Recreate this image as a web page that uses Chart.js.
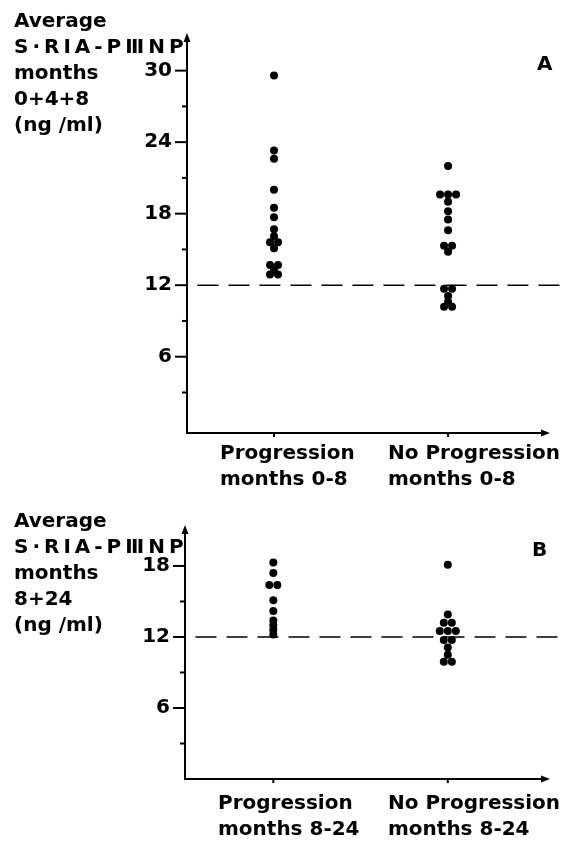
<!DOCTYPE html>
<html>
<head>
<meta charset="utf-8">
<script src="https://cdn.jsdelivr.net/npm/chart.js@4"></script>
<style>
body { margin: 0; background: #fff; }
#page { position: relative; width: 567px; height: 843px; overflow: hidden;
        font-family: "DejaVu Sans", sans-serif; font-weight: bold; font-size: 20px; color: #000; }
canvas { position: absolute; left: 0; }
.txt { position: absolute; white-space: pre; line-height: 26px; }
.wide { letter-spacing: 4px; }
</style>
</head>
<body>
<div id="page">
  <canvas id="chartA" width="567" height="460" style="top:0"></canvas>
  <canvas id="chartB" width="567" height="316" style="top:490px"></canvas>

  <div class="txt" style="left:14px;top:7px">Average
<span class="wide">S·RIA-PⅢNP</span>
months
0+4+8
(ng /ml)</div>
  <div class="txt" style="left:537px;top:50px">A</div>
  <div class="txt" style="left:220px;top:439px">Progression
months 0-8</div>
  <div class="txt" style="left:388px;top:439px">No Progression
months 0-8</div>

  <div class="txt" style="left:14px;top:507px">Average
<span class="wide">S·RIA-PⅢNP</span>
months
8+24
(ng /ml)</div>
  <div class="txt" style="left:532px;top:536px">B</div>
  <div class="txt" style="left:218px;top:789px">Progression
months 8-24</div>
  <div class="txt" style="left:388px;top:789px">No Progression
months 8-24</div>
</div>
<script>
// values (ng/ml)
const categories = [1, 2]; // Progression, No Progression
const progA = [29.6, 23.3, 22.6, 20.0, 18.5, 17.7, 16.7, 16.1, 15.6, 15.6, 15.1, 13.7, 13.7, 13.3, 12.9, 12.9];
const noProgA = [22.0, 19.6, 19.6, 19.6, 19.0, 18.2, 17.5, 16.6, 15.3, 15.3, 14.8, 11.7, 11.7, 11.1, 10.6, 10.2, 10.2];
const progB = [18.3, 17.4, 16.4, 16.4, 15.1, 14.2, 13.4, 13.0, 12.6, 12.2];
const noProgB = [18.1, 13.9, 13.2, 13.2, 12.5, 12.5, 12.5, 11.75, 11.75, 11.1, 10.5, 9.9, 9.9];
const cutoff = 12;
const yTicksA = [6, 12, 18, 24, 30];
const yMinorA = [3, 9, 15, 21, 27];
const yTicksB = [6, 12, 18];
const yMinorB = [3, 9, 15];

// spread equal values side by side like the hand plotted dots
function toPoints(values, xPos) {
    const counts = {};
    values.forEach(v => counts[v] = (counts[v] || 0) + 1);
    const seen = {};
    return values.map(v => {
        const n = counts[v];
        const i = seen[v] = (seen[v] || 0) + 1;
        return { x: xPos + (i - 1 - (n - 1) / 2) * 0.046, y: v };
    });
}

const axisDecor = {
    id: 'axisDecor',
    afterDraw(chart, args, opts) {
        const { ctx, chartArea: a, scales: { x, y } } = chart;
        ctx.save();
        ctx.strokeStyle = '#000';
        ctx.fillStyle = '#000';
        ctx.lineWidth = 2;
        const seg = (x1, y1, x2, y2) => {
            ctx.beginPath(); ctx.moveTo(x1, y1); ctx.lineTo(x2, y2); ctx.stroke();
        };
        opts.major.forEach(v => { const py = y.getPixelForValue(v); seg(a.left - 12, py, a.left, py); });
        opts.minor.forEach(v => { const py = y.getPixelForValue(v); seg(a.left - 5, py, a.left, py); });
        categories.forEach(v => { const px = x.getPixelForValue(v); seg(px, a.bottom, px, a.bottom + 4); });
        // arrow heads
        ctx.beginPath();
        ctx.moveTo(a.left, a.top - 9); ctx.lineTo(a.left - 3.5, a.top); ctx.lineTo(a.left + 3.5, a.top);
        ctx.closePath(); ctx.fill();
        ctx.beginPath();
        ctx.moveTo(a.right + 9, a.bottom); ctx.lineTo(a.right, a.bottom - 3.5); ctx.lineTo(a.right, a.bottom + 3.5);
        ctx.closePath(); ctx.fill();
        ctx.restore();
    }
};

function makeChart(id, prog, noProg, yMin, yMax, ticks, minor, xMin, axisLeft, pad) {
    return new Chart(document.getElementById(id), {
        type: 'scatter',
        data: {
            datasets: [
                { data: toPoints(prog, categories[0]) },
                { data: toPoints(noProg, categories[1]) },
                {
                    data: [{ x: xMin + 0.06, y: cutoff }, { x: 2.75, y: cutoff }],
                    showLine: true, pointRadius: 0, borderColor: '#000', borderWidth: 1.6,
                    borderDash: [21, 10], clip: false
                }
            ]
        },
        options: {
            responsive: false,
            animation: false,
            layout: { padding: pad },
            elements: { point: { radius: 4, backgroundColor: '#000', borderWidth: 0 } },
            plugins: {
                legend: { display: false },
                tooltip: { enabled: false },
                axisDecor: { major: ticks, minor: minor }
            },
            scales: {
                x: {
                    type: 'linear', min: xMin, max: 2.534,
                    grid: { display: false, drawTicks: false },
                    border: { display: true, color: '#000', width: 2 },
                    ticks: { display: false },
                    afterFit: s => { s.height = 0; }
                },
                y: {
                    min: yMin, max: yMax,
                    grid: { display: false, drawTicks: false },
                    border: { display: true, color: '#000', width: 2 },
                    afterBuildTicks: s => { s.ticks = ticks.map(v => ({ value: v })); },
                    ticks: {
                        color: '#000', padding: 15,
                        font: { family: 'DejaVu Sans', size: 20, weight: 'bold' }
                    },
                    afterFit: s => { s.width = axisLeft; }
                }
            }
        },
        plugins: [axisDecor]
    });
}

// the y tick labels add ~27px below the plot, so the canvases run that much past the axis
makeChart('chartA', progA, noProgA, -0.4, 32.4, yTicksA, yMinorA, 0.5, 187,
    { left: 0, top: 42, right: 26, bottom: 0 });
makeChart('chartB', progB, noProgB, 0, 20.7, yTicksB, yMinorB, 0.494, 185,
    { left: 0, top: 44, right: 26, bottom: 0 });
</script>
</body>
</html>
